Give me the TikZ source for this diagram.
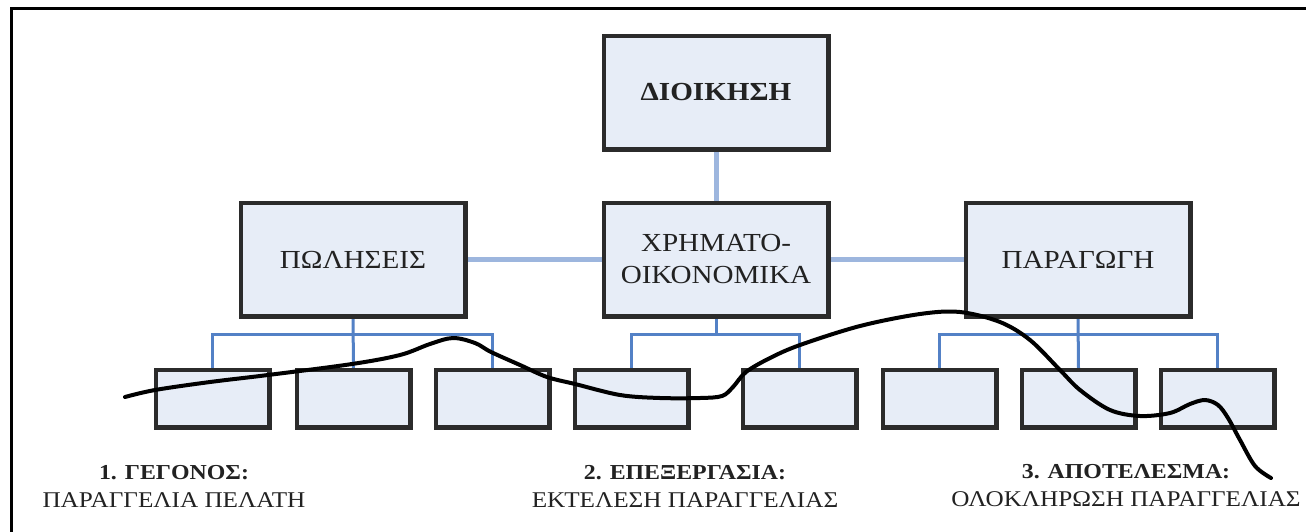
\documentclass[tikz,border=0pt]{standalone}
\usepackage{fontspec}
\setmainfont{Liberation Serif}[FakeStretch=1.12]
\definecolor{boxfill}{HTML}{E7EDF7}
\definecolor{boxline}{HTML}{2B2B2B}
\definecolor{linklight}{HTML}{9DB6DE}
\definecolor{linkdark}{HTML}{5381C6}
\definecolor{txt}{HTML}{222222}
\newcommand{\captitle}[1]{{\fontsize{21.3}{28}\selectfont\bfseries #1}}
\begin{document}
\begin{tikzpicture}[x=1pt,y=-1pt,
  unit/.style={draw=boxline, line width=3pt, fill=boxfill, inner sep=0pt, anchor=north west, text=txt, align=center},
  bigbox/.style={unit, minimum width=223pt, minimum height=112pt, font=\fontsize{26}{32}\selectfont},
  smallbox/.style={unit, minimum width=112pt, minimum height=56pt},
  toplink/.style={draw=linklight, line width=5pt},
  sublink/.style={draw=linkdark, line width=3pt},
  caption/.style={text=txt, align=center, font=\fontsize{22.5}{28}\selectfont},
  wave/.style={line width=4pt, line cap=round, line join=round}
]
\useasboundingbox (0,0) rectangle (1306,531);
\fill[white] (0,0) rectangle (1306,531);
% frame
\draw[line width=3.5pt] (1310,8.5) -- (11.5,8.5) -- (11.5,535);

% top level boxes
\node[bigbox] (dio) at (603,35) {\textbf{ΔΙΟΙΚΗΣΗ}};
\node[bigbox] (fin) at (603,202) {ΧΡΗΜΑΤΟ-\\ΟΙΚΟΝΟΜΙΚΑ};
\node[bigbox] (pol) at (240,202) {ΠΩΛΗΣΕΙΣ};
\node[bigbox] (par) at (965,202) {ΠΑΡΑΓΩΓΗ};

% bottom level boxes
\node[smallbox] (c1) at (155,369) {};
\node[smallbox] (c2) at (296,369) {};
\node[smallbox] (c3) at (435,369) {};
\node[smallbox] (c4) at (574,369) {};
\node[smallbox] (c5) at (742,369) {};
\node[smallbox] (c6) at (882,369) {};
\node[smallbox] (c7) at (1021,369) {};
\node[smallbox] (c8) at (1160,369) {};

% top links
\draw[toplink] (dio.south) -- (fin.north);
\draw[toplink] (pol.east) -- (fin.west);
\draw[toplink] (fin.east) -- (par.west);

% sub links
\draw[sublink] (pol.south) -- (c2.north);
\draw[sublink] (c1.north) -- ++(0,-35) -| (c3.north);
\draw[sublink] (fin.south) -- (fin.south |- 0,334);
\draw[sublink] (c4.north) -- ++(0,-35) -| (c5.north);
\draw[sublink] (par.south) -- (c7.north);
\draw[sublink] (c6.north) -- ++(0,-35) -| (c8.north);

% re-draw box borders over link ends
\foreach \n in {dio,fin,pol,par,c1,c2,c3,c4,c5,c6,c7,c8}
  \draw[boxline, line width=3pt] (\n.north west) rectangle (\n.south east);

% captions
\node[caption] (t1) at (174,486) {\captitle{1. ΓΕΓΟΝΟΣ:}\\ΠΑΡΑΓΓΕΛΙΑ ΠΕΛΑΤΗ};
\node[caption] (t2) at (685,486) {\captitle{2. ΕΠΕΞΕΡΓΑΣΙΑ:}\\ΕΚΤΕΛΕΣΗ ΠΑΡΑΓΓΕΛΙΑΣ};
\node[caption] (t3) at (1126,486) {\captitle{3. ΑΠΟΤΕΛΕΣΜΑ:}\\ΟΛΟΚΛΗΡΩΣΗ ΠΑΡΑΓΓΕΛΙΑΣ};

% the process curve
\draw[wave] plot[smooth, tension=0.55] coordinates {
 (125,397) (155,390) (210,382) (268,375) (352,364) (400,355) (430,344)
 (453,338) (475,343) (491,352) (520,365) (547,377) (575,384) (620,395)
 (660,398) (700,398) (722,396) (733,387) (746,372) (770,358) (800,345)
 (860,326) (920,314) (960,312) (1000,322) (1030,340) (1060,370) (1080,390)
 (1110,410) (1140,416) (1170,413) (1190,404) (1205,400) (1218,405)
 (1228,418) (1240,440) (1255,466) (1271,478)};
\end{tikzpicture}
\end{document}
